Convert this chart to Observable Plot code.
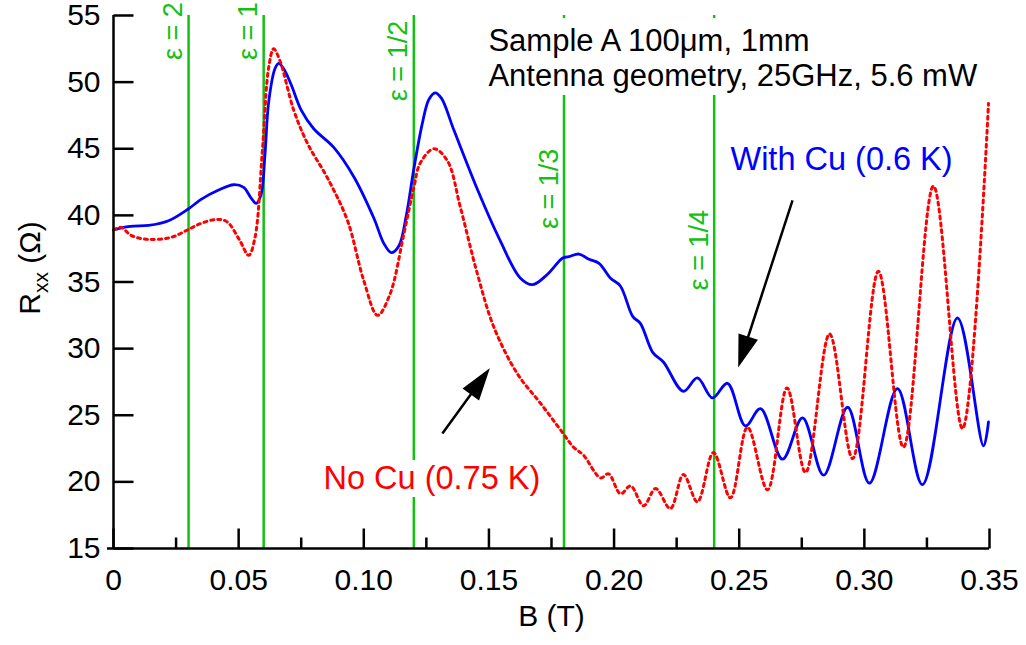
<!DOCTYPE html>
<html><head><meta charset="utf-8">
<script src="https://cdn.jsdelivr.net/npm/d3@7"></script>
<script src="https://cdn.jsdelivr.net/npm/@observablehq/plot@0.6"></script>
<style>body{margin:0;background:#fff}</style>
</head><body><div id="chart"></div>
<script>
// With Cu (0.6 K)
const cuB = [0.000,0.004,0.008,0.014,0.022,0.030,0.035,0.042,0.048,0.052,0.055,0.057,0.059,0.0605,0.062,0.0645,0.066,0.068,0.071,0.075,0.080,0.088,0.096,0.104,0.108,0.111,0.114,0.117,0.120,0.1235,0.126,0.1285,0.131,0.136,0.1455,0.1545,0.1625,0.1675,0.1735,0.1795,0.182,0.186,0.190,0.194,0.1985,0.2025,0.2075,0.2105,0.2155,0.2197,0.2277,0.2333,0.2393,0.2453,0.2525,0.2585,0.2673,0.2753,0.2837,0.2933,0.302,0.3132,0.3232,0.3372,0.3476,0.3496];
const cuR = [38.9,39.1,39.2,39.25,39.6,40.5,41.2,41.9,42.3,42.1,41.3,40.9,41.6,44.5,48.5,51.0,51.4,51.0,49.8,47.9,46.5,45.1,42.9,39.8,37.9,37.2,37.7,40.0,43.5,47.0,48.7,49.2,48.8,46.4,41.9,38.1,35.3,34.8,35.6,36.8,36.9,37.1,36.7,36.4,35.3,34.7,32.4,31.9,29.7,29.0,26.8,27.8,26.3,27.4,24.2,25.5,21.7,24.8,20.5,25.6,19.9,27.0,19.8,32.3,22.7,24.5];
// No Cu (0.75 K)
const noCuB = [0.000,0.003,0.007,0.0135,0.023,0.0295,0.035,0.0415,0.0455,0.0505,0.054,0.0565,0.0595,0.062,0.064,0.0665,0.072,0.0775,0.0855,0.0935,0.100,0.1055,0.1105,0.116,0.120,0.1225,0.128,0.1334,0.1386,0.1454,0.152,0.1614,0.1706,0.1794,0.1838,0.1878,0.1946,0.1978,0.2026,0.2066,0.2118,0.2166,0.2225,0.2277,0.2333,0.2397,0.2465,0.2533,0.2613,0.2691,0.2765,0.2861,0.2953,0.3056,0.3156,0.3276,0.3392,0.3496];
const noCuR = [38.9,39.1,38.5,38.2,38.35,38.9,39.4,39.7,39.5,38.1,37.0,38.3,44.9,51.1,52.5,51.6,47.9,45.4,42.8,39.6,35.1,32.5,34.1,38.6,42.1,43.9,45.0,44.1,40.6,35.6,31.6,28.1,25.9,23.7,22.6,22.0,20.3,20.6,19.1,19.7,18.2,19.5,18.0,20.55,18.5,22.2,18.8,24.1,19.4,27.05,20.7,31.1,21.75,35.8,22.6,42.2,24.0,48.4];

const epsB = [0.03, 0.06, 0.12, 0.18, 0.24];
const epsLabels = ["ε = 2", "ε = 1", "ε = 1/2", "ε = 1/3", "ε = 1/4"];
const epsLabelR = [56.0, 56.0, 54.6, 45.0, 40.4];

const xTicks = [0, 0.05, 0.10, 0.15, 0.20, 0.25, 0.30, 0.35];
const xTickLabels = ["0", "0.05", "0.10", "0.15", "0.20", "0.25", "0.30", "0.35"];
const xMinorTicks = [0.025, 0.075, 0.125, 0.175, 0.225, 0.275, 0.325];
const yTicks = [15, 20, 25, 30, 35, 40, 45, 50, 55];
const yTickLabels = ["15", "20", "25", "30", "35", "40", "45", "50", "55"];

const noteText = ["Sample A 100μm, 1mm", "Antenna geometry, 25GHz, 5.6 mW", "With Cu (0.6 K)", "No Cu (0.75 K)"];
const noteB = [0.1498, 0.1498, 0.2465, 0.0839];
const noteR = [53.05, 50.42, 44.19, 20.25];
const noteColor = ["black", "black", "#0000ff", "#ff0000"];
const noteSize = [31, 31, 32.5, 32.5];

const arrowTailB = [0.1314, 0.2713];
const arrowTailR = [23.63, 41.12];
const arrowTipB = [0.1494, 0.2501];
const arrowTipR = [28.28, 28.88];

const W = 1026, H = 645, ML = 113, MR = 37, MT = 15, MB = 97;
const xDom = [0, 0.35], yDom = [15, 55];
const kx = (W - ML - MR) / (xDom[1] - xDom[0]);
const ky = (H - MT - MB) / (yDom[1] - yDom[0]);
const arrows = arrowTipB.map((b, i) => {
  const dx = (b - arrowTailB[i]) * kx;
  const dy = -(arrowTipR[i] - arrowTailR[i]) * ky;
  return {b, r: arrowTipR[i], len: Math.hypot(dx, dy), rot: Math.atan2(dx, -dy) * 180 / Math.PI};
});
const arrowShape = {
  draw(context, l) {
    const h = 27, w = 17;
    context.moveTo(0, 0);
    context.lineTo(0, -l + h * 0.8);
    context.moveTo(0, -l);
    context.lineTo(-w / 2, -l + h);
    context.lineTo(w / 2, -l + h);
    context.closePath();
  }
};
const tickShape = {
  draw(context, l) {
    context.moveTo(0, 0);
    context.lineTo(0, -l);
  }
};

const green = "#13c013";
const font = "'Liberation Sans', Arial, Helvetica, sans-serif";

const chart = Plot.plot({
  width: W, height: H,
  marginLeft: ML, marginRight: MR, marginTop: MT, marginBottom: MB,
  x: {domain: xDom, label: null},
  y: {domain: yDom, label: null},
  length: {type: "identity"},
  style: {fontFamily: font, fontSize: "30px", background: "white", overflow: "visible"},
  marks: [
    Plot.ruleX(epsB, {stroke: green, strokeWidth: 2.5}),
    Plot.text(epsLabels, {x: epsB, y: epsLabelR, text: d => d, rotate: -90, textAnchor: "end", dx: -15, fill: green, fontSize: 27}),
    Plot.rect([0], {x1: 0.1466, x2: 0.35, y1: 49.0, y2: 54.77, fill: "white"}),
    Plot.rect([0], {x1: 0.0819, x2: 0.1706, y1: 18.83, y2: 21.6, fill: "white"}),
    Plot.text(noteText, {x: noteB, y: noteR, text: d => d, fill: noteColor, fontSize: noteSize, textAnchor: "start"}),
    Plot.line(cuR, {x: cuB, y: cuR, stroke: "#0000ff", strokeWidth: 2.8, curve: "catmull-rom"}),
    Plot.line(noCuR, {x: noCuB, y: noCuR, stroke: "#ff0000", strokeWidth: 3, strokeDasharray: "3,4", curve: "catmull-rom"}),
    Plot.vector(arrows, {x: "b", y: "r", length: "len", rotate: "rot", anchor: "end", shape: arrowShape, stroke: "black", fill: "black", strokeWidth: 2.5, strokeLinejoin: "miter", strokeLinecap: "butt"}),
    Plot.ruleX([0], {stroke: "black", strokeWidth: 2.5}),
    Plot.ruleY([15], {stroke: "black", strokeWidth: 2.5, insetLeft: -6}),
    Plot.vector(xTicks, {x: d => d, y: yDom[0], length: 20, rotate: 0, anchor: "start", shape: tickShape, stroke: "black", strokeWidth: 2.5, strokeLinecap: "butt"}),
    Plot.vector(xMinorTicks, {x: d => d, y: yDom[0], length: 11, rotate: 0, anchor: "start", shape: tickShape, stroke: "black", strokeWidth: 2.5, strokeLinecap: "butt"}),
    Plot.vector(yTicks, {x: xDom[0], y: d => d, length: 20, rotate: 90, anchor: "start", shape: tickShape, stroke: "black", strokeWidth: 2.5, strokeLinecap: "butt"}),
    Plot.axisX(xTicks, {tickSize: 0, tickPadding: 20, fontSize: 30, tickFormat: d => xTickLabels[xTicks.indexOf(d)]}),
    Plot.axisY(yTicks, {tickSize: 0, tickPadding: 13, fontSize: 30, tickFormat: d => yTickLabels[yTicks.indexOf(d)]}),
    Plot.text(["B (T)"], {frameAnchor: "bottom", dy: 77, fontSize: 30})
  ]
});
document.getElementById("chart").appendChild(chart);

const yl = d3.select(chart).append("text")
  .attr("transform", "translate(40,268) rotate(-90)")
  .attr("text-anchor", "middle")
  .attr("font-family", font)
  .attr("font-size", 30)
  .attr("fill", "black");
yl.append("tspan").text("R");
yl.append("tspan").attr("dy", 8).attr("font-size", 21).text("xx");
yl.append("tspan").attr("dy", -8).text(" (Ω)");
</script>
</body></html>
